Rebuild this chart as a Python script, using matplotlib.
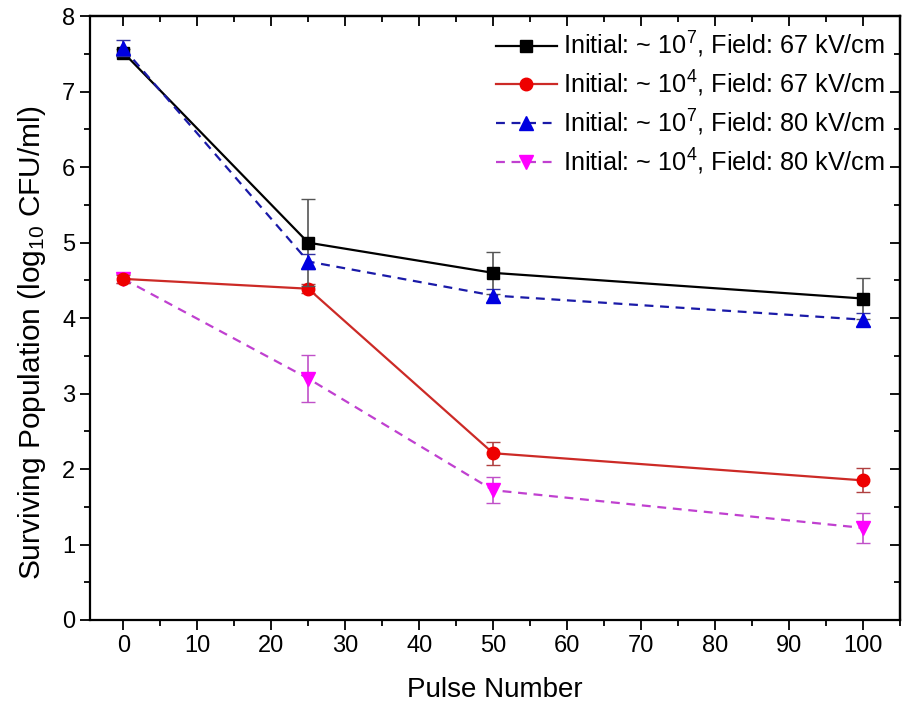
import matplotlib
matplotlib.use("Agg")
import matplotlib.pyplot as plt
from matplotlib.ticker import MultipleLocator

plt.rcParams['font.family'] = ['Liberation Sans', 'DejaVu Sans']
plt.rcParams['mathtext.fontset'] = 'custom'
plt.rcParams['mathtext.rm'] = 'Liberation Sans'
plt.rcParams['mathtext.it'] = 'Liberation Sans:italic'
plt.rcParams['mathtext.bf'] = 'Liberation Sans:bold'

pulses = [0, 25, 50, 100]

labels = [
    r'Initial: ~ $\mathregular{10^7}$, Field: 67 kV/cm',
    r'Initial: ~ $\mathregular{10^4}$, Field: 67 kV/cm',
    r'Initial: ~ $\mathregular{10^7}$, Field: 80 kV/cm',
    r'Initial: ~ $\mathregular{10^4}$, Field: 80 kV/cm',
]

hi_67 = [7.52, 5.00, 4.60, 4.26]
hi_67_err = [0.05, 0.58, 0.28, 0.27]
lo_67 = [4.52, 4.39, 2.21, 1.85]
lo_67_err = [0.05, 0.06, 0.15, 0.16]
hi_80 = [7.58, 4.75, 4.30, 3.98]
hi_80_err = [0.10, 0.10, 0.08, 0.09]
lo_80 = [4.52, 3.20, 1.72, 1.22]
lo_80_err = [0.06, 0.31, 0.17, 0.20]

fig = plt.figure(figsize=(9.02, 7.08), dpi=100)
ax = fig.add_axes([0.0998, 0.1243, 0.898, 0.8527])

c1 = ax.errorbar(pulses, hi_67, yerr=hi_67_err, color='black', ecolor='#555555',
                 elinewidth=1.2, capsize=5, marker='s', markersize=8, lw=1.6, zorder=4)
c2 = ax.errorbar(pulses, lo_67, yerr=lo_67_err, color='#cc2a26', ecolor='#b04040',
                 mfc='#ee0000', mec='#ee0000', elinewidth=1.2, capsize=5, marker='o',
                 markersize=9, lw=1.6, zorder=3)
c3 = ax.errorbar(pulses, hi_80, yerr=hi_80_err, color='#1a1aa8', ecolor='#3030a0',
                 mfc='#0000e0', mec='#0000e0', elinewidth=1.2, capsize=5, marker='^',
                 markersize=10, lw=1.6, ls=(0, (4, 3)), zorder=5)
c4 = ax.errorbar(pulses, lo_80, yerr=lo_80_err, color='#c040d0', ecolor='#c050c8',
                 mfc='#ff00ff', mec='#ff00ff', elinewidth=1.2, capsize=5, marker='v',
                 markersize=10, lw=1.6, ls=(0, (4, 3)), zorder=2)

ax.set_xlim(-4.5, 105)
ax.set_ylim(0, 8)
ax.xaxis.set_major_locator(MultipleLocator(10))
ax.xaxis.set_minor_locator(MultipleLocator(5))
ax.yaxis.set_major_locator(MultipleLocator(1))
ax.yaxis.set_minor_locator(MultipleLocator(0.5))

ax.tick_params(which='both', direction='out', bottom=True, left=True,
               top=False, right=False, labelsize=17, width=1.3)
ax.tick_params(which='major', length=7)
ax.tick_params(which='minor', length=4)

# mirrored inward ticks on top and right
secx = ax.secondary_xaxis('top')
secx.xaxis.set_major_locator(MultipleLocator(10))
secx.xaxis.set_minor_locator(MultipleLocator(5))
secx.tick_params(which='both', direction='in', labeltop=False, width=1.3)
secx.tick_params(which='major', length=7)
secx.tick_params(which='minor', length=4)
secy = ax.secondary_yaxis('right')
secy.yaxis.set_major_locator(MultipleLocator(1))
secy.yaxis.set_minor_locator(MultipleLocator(0.5))
secy.tick_params(which='both', direction='in', labelright=False, width=1.3)
secy.tick_params(which='major', length=7)
secy.tick_params(which='minor', length=4)

for s in ax.spines.values():
    s.set_linewidth(1.6)
for s in list(secx.spines.values()) + list(secy.spines.values()):
    s.set_linewidth(1.6)

ax.set_xlabel('Pulse Number', fontsize=20, labelpad=15)
ax.set_ylabel(r'Surviving Population (log$\mathregular{_{10}}$ CFU/ml)', fontsize=21.5)
ax.yaxis.set_label_coords(-0.052, 0.46)

handles = [c[0] for c in (c1, c2, c3, c4)]
ax.legend(handles, labels, loc='upper right', frameon=False, fontsize=18.2,
          handlelength=2.4, handletextpad=0.25, labelspacing=0.34,
          borderaxespad=0.2, bbox_to_anchor=(1.0, 1.002))

fig.savefig('out.png', dpi=100)
